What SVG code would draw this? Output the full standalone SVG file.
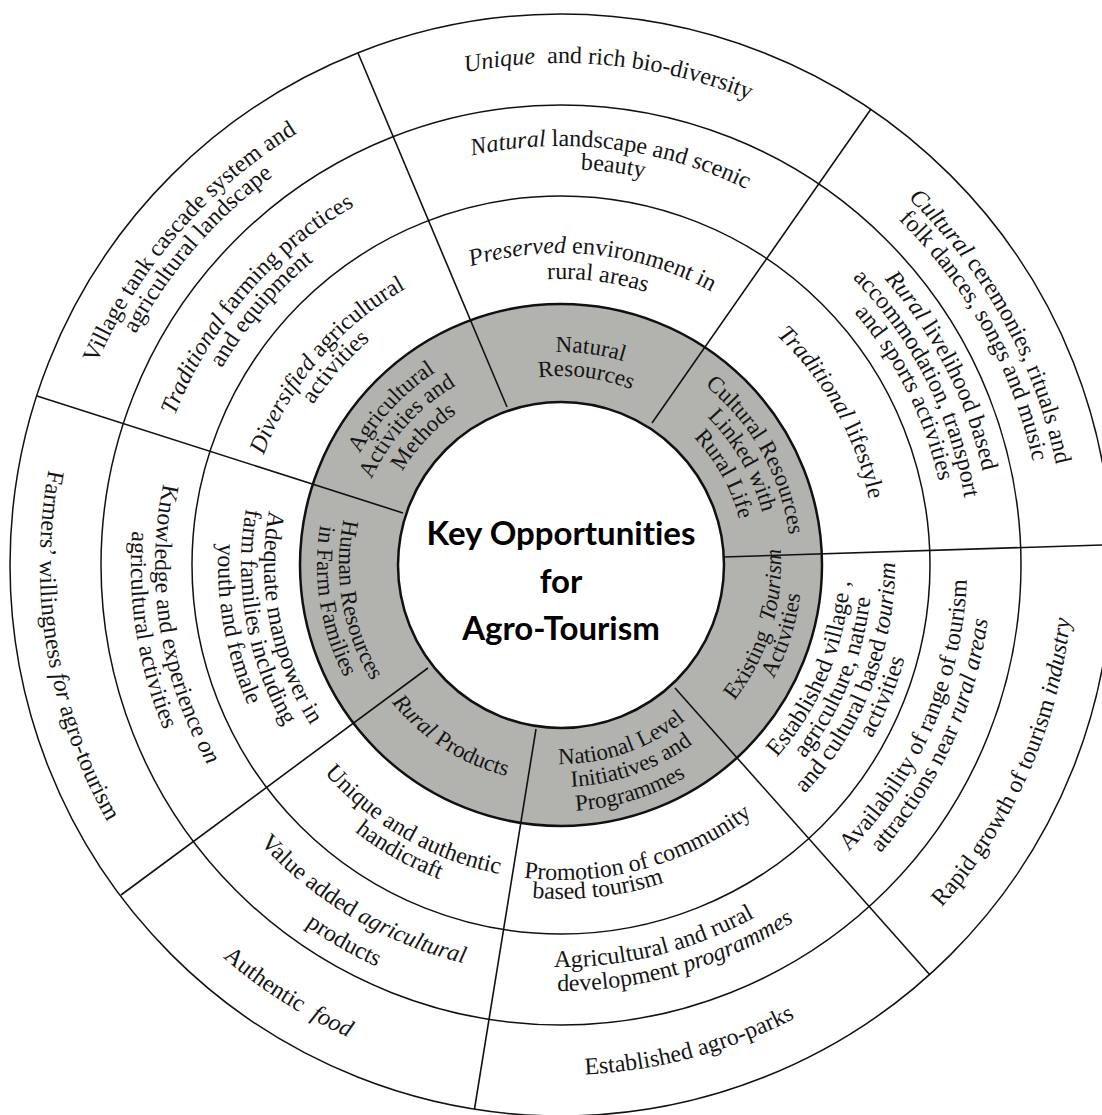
<svg xmlns="http://www.w3.org/2000/svg" width="1102" height="1115" viewBox="0 0 1102 1115">
<style>
.ring{fill:none;stroke:#111;stroke-width:1.5}
.band{fill:#b2b2ae;stroke:#111;stroke-width:2.5}
.core{fill:#fff;stroke:#111;stroke-width:2.5}
.div{stroke:#111;stroke-width:1.6;fill:none}
.t{font-family:"Liberation Serif","Times New Roman",serif;font-size:24px;fill:#151515;text-anchor:middle}
.g{font-size:23px}
.s{text-anchor:start}
.i{font-style:italic}
.title{font-family:Lato,"Liberation Sans",sans-serif;font-weight:bold;font-size:33px;fill:#000;text-anchor:middle;font-variant-ligatures:none}
</style>
<defs>
<path id="c502" d="M561,1067 A502,502 0 1 1 561,63 A502,502 0 1 1 561,1067"/>
<path id="c505" d="M561,1070 A505,505 0 1 1 561,60 A505,505 0 1 1 561,1070"/>
<path id="c483" d="M561,1048 A483,483 0 1 1 561,82 A483,483 0 1 1 561,1048"/>
<path id="c506" d="M561,1071 A506,506 0 1 1 561,59 A506,506 0 1 1 561,1071"/>
<path id="c484" d="M561,1049 A484,484 0 1 1 561,81 A484,484 0 1 1 561,1049"/>
<path id="c419" d="M561,984 A419,419 0 1 1 561,146 A419,419 0 1 1 561,984"/>
<path id="c396" d="M561,961 A396,396 0 1 1 561,169 A396,396 0 1 1 561,961"/>
<path id="c432" d="M561,997 A432,432 0 1 1 561,133 A432,432 0 1 1 561,997"/>
<path id="c409" d="M561,974 A409,409 0 1 1 561,156 A409,409 0 1 1 561,974"/>
<path id="c387" d="M561,952 A387,387 0 1 1 561,178 A387,387 0 1 1 561,952"/>
<path id="c414" d="M561,979 A414,414 0 1 1 561,151 A414,414 0 1 1 561,979"/>
<path id="c392" d="M561,957 A392,392 0 1 1 561,173 A392,392 0 1 1 561,957"/>
<path id="c312" d="M561,877 A312,312 0 1 1 561,253 A312,312 0 1 1 561,877"/>
<path id="c286" d="M561,851 A286,286 0 1 1 561,279 A286,286 0 1 1 561,851"/>
<path id="c315" d="M561,880 A315,315 0 1 1 561,250 A315,315 0 1 1 561,880"/>
<path id="c317" d="M561,882 A317,317 0 1 1 561,248 A317,317 0 1 1 561,882"/>
<path id="c295" d="M561,860 A295,295 0 1 1 561,270 A295,295 0 1 1 561,860"/>
<path id="c213" d="M561,778 A213,213 0 1 1 561,352 A213,213 0 1 1 561,778"/>
<path id="c189" d="M561,754 A189,189 0 1 1 561,376 A189,189 0 1 1 561,754"/>
<path id="c230" d="M561,795 A230,230 0 1 1 561,335 A230,230 0 1 1 561,795"/>
<path id="c208" d="M561,773 A208,208 0 1 1 561,357 A208,208 0 1 1 561,773"/>
<path id="c184" d="M561,749 A184,184 0 1 1 561,381 A184,184 0 1 1 561,749"/>
<path id="a512" d="M561,53 A512,512 0 1 0 561,1077 A512,512 0 1 0 561,53"/>
<path id="a510" d="M561,55 A510,510 0 1 0 561,1075 A510,510 0 1 0 561,55"/>
<path id="a518" d="M561,47 A518,518 0 1 0 561,1083 A518,518 0 1 0 561,47"/>
<path id="a521" d="M561,44 A521,521 0 1 0 561,1086 A521,521 0 1 0 561,44"/>
<path id="a406" d="M561,159 A406,406 0 1 0 561,971 A406,406 0 1 0 561,159"/>
<path id="a430" d="M561,135 A430,430 0 1 0 561,995 A430,430 0 1 0 561,135"/>
<path id="a402" d="M561,163 A402,402 0 1 0 561,967 A402,402 0 1 0 561,163"/>
<path id="a426" d="M561,139 A426,426 0 1 0 561,991 A426,426 0 1 0 561,139"/>
<path id="a410" d="M561,155 A410,410 0 1 0 561,975 A410,410 0 1 0 561,155"/>
<path id="a442" d="M561,123 A442,442 0 1 0 561,1007 A442,442 0 1 0 561,123"/>
<path id="a289" d="M561,276 A289,289 0 1 0 561,854 A289,289 0 1 0 561,276"/>
<path id="a311" d="M561,254 A311,311 0 1 0 561,876 A311,311 0 1 0 561,254"/>
<path id="a334" d="M561,231 A334,334 0 1 0 561,899 A334,334 0 1 0 561,231"/>
<path id="a356" d="M561,209 A356,356 0 1 0 561,921 A356,356 0 1 0 561,209"/>
<path id="a315" d="M561,250 A315,315 0 1 0 561,880 A315,315 0 1 0 561,250"/>
<path id="a337" d="M561,228 A337,337 0 1 0 561,902 A337,337 0 1 0 561,228"/>
<path id="a297" d="M561,268 A297,297 0 1 0 561,862 A297,297 0 1 0 561,268"/>
<path id="a320" d="M561,245 A320,320 0 1 0 561,885 A320,320 0 1 0 561,245"/>
<path id="a343" d="M561,222 A343,343 0 1 0 561,908 A343,343 0 1 0 561,222"/>
<path id="a220" d="M561,345 A220,220 0 1 0 561,785 A220,220 0 1 0 561,345"/>
<path id="a241" d="M561,324 A241,241 0 1 0 561,806 A241,241 0 1 0 561,324"/>
<path id="a199" d="M561,366 A199,199 0 1 0 561,764 A199,199 0 1 0 561,366"/>
<path id="a222" d="M561,343 A222,222 0 1 0 561,787 A222,222 0 1 0 561,343"/>
<path id="a246" d="M561,319 A246,246 0 1 0 561,811 A246,246 0 1 0 561,319"/>
<path id="a218" d="M561,347 A218,218 0 1 0 561,783 A218,218 0 1 0 561,347"/>
<path id="a244" d="M561,321 A244,244 0 1 0 561,809 A244,244 0 1 0 561,321"/>
</defs>
<rect width="1102" height="1115" fill="#fff"/>
<g id="rings">
<circle cx="561" cy="565" r="551" class="ring"/>
<circle cx="561" cy="565" r="460" class="ring"/>
<circle cx="561" cy="565" r="369" class="ring"/>
<circle cx="561" cy="565" r="261" class="band"/>
</g>
<g id="connectors">
<line class="div" x1="507" y1="407" x2="358" y2="53"/>
<line class="div" x1="652" y1="423" x2="871" y2="109"/>
<line class="div" x1="723" y1="557" x2="1102" y2="545"/>
<line class="div" x1="675" y1="688" x2="930" y2="975"/>
<line class="div" x1="536" y1="729" x2="474.5" y2="1109"/>
<line class="div" x1="428" y1="668" x2="121" y2="895"/>
<line class="div" x1="403" y1="513" x2="37" y2="396"/>
</g>
<g id="center">
<circle cx="561" cy="565" r="163" class="core"/>
<text class="title" x="561" y="545">Key Opportunities</text>
<text class="title" x="561" y="593">for</text>
<text class="title" x="561" y="640">Agro-Tourism</text>
</g>
<g id="natural-resources">
<text class="t g"><textPath href="#c213" startOffset="52.17%">Natural</textPath></text>
<text class="t g"><textPath href="#c189" startOffset="52.08%">Resources</textPath></text>
<text class="t"><textPath href="#c312" startOffset="51.67%"><tspan class="i">Preserved</tspan> environment in</textPath></text>
<text class="t"><textPath href="#c286" startOffset="52.03%">rural areas</textPath></text>
<text class="t"><textPath href="#c419" startOffset="51.94%"><tspan class="i">Natural</tspan> landscape and scenic</textPath></text>
<text class="t"><textPath href="#c396" startOffset="52.08%">beauty</textPath></text>
<text class="t" style="white-space:pre"><textPath href="#c502" startOffset="51.53%"><tspan class="i">Unique</tspan>  and rich bio-diversity</textPath></text>
</g>
<g id="cultural-resources">
<text class="t g"><textPath href="#c230" startOffset="66.83%">Cultural Resources</textPath></text>
<text class="t g"><textPath href="#c208" startOffset="66.67%">Linked with</textPath></text>
<text class="t g"><textPath href="#c184" startOffset="66.92%">Rural Life</textPath></text>
<text class="t"><textPath href="#c315" startOffset="66.83%"><tspan class="i">Traditional</tspan> lifestyle</textPath></text>
<text class="t"><textPath href="#c432" startOffset="67.5%"><tspan class="i">Rural</tspan> livelihood based</textPath></text>
<text class="t"><textPath href="#c409" startOffset="67.5%">accommodation, transport</textPath></text>
<text class="t"><textPath href="#c387" startOffset="67.61%">and sports activities</textPath></text>
<text class="t"><textPath href="#c505" startOffset="66.94%"><tspan class="i">Cultural</tspan> ceremonies, rituals and</textPath></text>
<text class="t"><textPath href="#c483" startOffset="66.94%">folk dances, songs and music</textPath></text>
</g>
<g id="existing-tourism">
<text class="t g" style="white-space:pre"><textPath href="#a220" startOffset="70.3%">Existing  <tspan class="i">Tourism</tspan></textPath></text>
<text class="t g"><textPath href="#a241" startOffset="70.11%">Activities</textPath></text>
<text class="t"><textPath href="#a289" startOffset="68.75%">Established village ,</textPath></text>
<text class="t"><textPath href="#a311" startOffset="68.81%">agriculture, nature</textPath></text>
<text class="t"><textPath href="#a334" startOffset="69.06%">and cultural based <tspan class="i">tourism</tspan></textPath></text>
<text class="t"><textPath href="#a356" startOffset="68.83%">activities</textPath></text>
<text class="t"><textPath href="#a406" startOffset="68.47%">Availability of range of tourism</textPath></text>
<text class="t"><textPath href="#a430" startOffset="68.14%">attractions near <tspan class="i">rural areas</tspan></textPath></text>
<text class="t"><textPath href="#a512" startOffset="68.33%">Rapid growth of tourism <tspan class="i">industry</tspan></textPath></text>
</g>
<g id="national-initiatives">
<text class="t g"><textPath href="#a199" startOffset="55.28%">National Level</textPath></text>
<text class="t g"><textPath href="#a222" startOffset="55.42%">Initiatives and</textPath></text>
<text class="t g"><textPath href="#a246" startOffset="54.72%">Programmes</textPath></text>
<text class="t s"><textPath href="#a315" startOffset="48.11%">Promotion of community</textPath></text>
<text class="t s"><textPath href="#a334" startOffset="48.61%">based tourism</textPath></text>
<text class="t s"><textPath href="#a402" startOffset="49.72%">Agricultural and rural</textPath></text>
<text class="t s"><textPath href="#a426" startOffset="49.86%">development <tspan class="i">programmes</tspan></textPath></text>
<text class="t"><textPath href="#a510" startOffset="54.17%">Established agro-parks</textPath></text>
</g>
<g id="rural-products">
<text class="t g"><textPath href="#a218" startOffset="40.92%"><tspan class="i">Rural</tspan> Products</textPath></text>
<text class="t"><textPath href="#a315" startOffset="41.67%">Unique and authentic</textPath></text>
<text class="t"><textPath href="#a337" startOffset="41.81%">handicraft</textPath></text>
<text class="t"><textPath href="#a410" startOffset="41.53%">Value added <tspan class="i">agricultural</tspan></textPath></text>
<text class="t"><textPath href="#a442" startOffset="41.67%">products</textPath></text>
<text class="t" style="white-space:pre"><textPath href="#a518" startOffset="40.97%">Authentic  <tspan class="i">food</tspan></textPath></text>
</g>
<g id="human-resources">
<text class="t g"><textPath href="#a222" startOffset="27.72%">Human Resources</textPath></text>
<text class="t g"><textPath href="#a244" startOffset="27.5%">in Farm Families</textPath></text>
<text class="t"><textPath href="#a297" startOffset="28.06%">Adequate manpower in</textPath></text>
<text class="t"><textPath href="#a320" startOffset="27.78%">farm families including</textPath></text>
<text class="t"><textPath href="#a343" startOffset="27.86%">youth and female</textPath></text>
<text class="t"><textPath href="#a406" startOffset="27.5%">Knowledge and experience <tspan class="i">on</tspan></textPath></text>
<text class="t"><textPath href="#a430" startOffset="27.5%">agricultural activities</textPath></text>
<text class="t"><textPath href="#a521" startOffset="27.64%">Farmers’ willingness <tspan class="i">for</tspan> agro-tourism</textPath></text>
</g>
<g id="agricultural-activities">
<text class="t g"><textPath href="#c230" startOffset="36.94%">Agricultural</textPath></text>
<text class="t g"><textPath href="#c208" startOffset="36.67%">Activities and</textPath></text>
<text class="t g"><textPath href="#c184" startOffset="36.94%">Methods</textPath></text>
<text class="t"><textPath href="#c317" startOffset="36.25%"><tspan class="i">Diversified</tspan> agricultural</textPath></text>
<text class="t"><textPath href="#c295" startOffset="36.47%">activities</textPath></text>
<text class="t"><textPath href="#c414" startOffset="36.28%"><tspan class="i">Traditional</tspan> farming practices</textPath></text>
<text class="t"><textPath href="#c392" startOffset="36.25%">and equipment</textPath></text>
<text class="t"><textPath href="#c506" startOffset="36.39%">Village tank cascade system and</textPath></text>
<text class="t"><textPath href="#c484" startOffset="36.39%">agricultural landscape</textPath></text>
</g>
</svg>
